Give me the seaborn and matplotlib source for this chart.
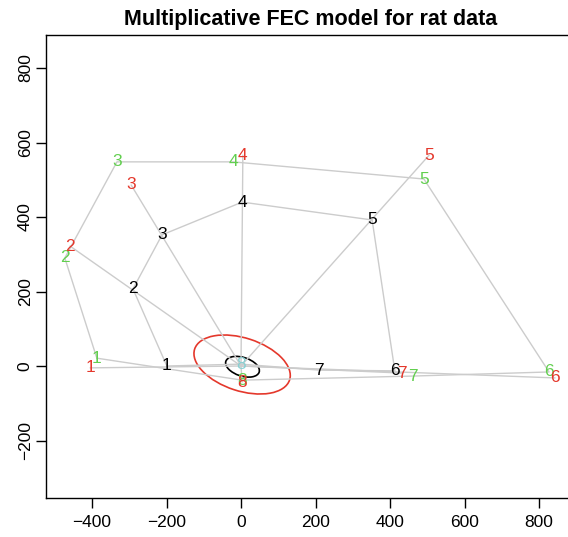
import numpy as np
import pandas as pd
import seaborn as sns
import matplotlib
matplotlib.use("Agg")
import matplotlib.pyplot as plt
from matplotlib.patches import Ellipse

# point labels shared by all series
labels = ["1", "2", "3", "4", "5", "6", "7", "8"]

# fitted (multiplicative) positions
fit_x = [-199, -290, -212, 3, 352, 413, 209, 0]
fit_y = [0, 207, 352, 440, 392, -13, -11, 5]
fit_colors = ["black"] * 7 + ["#8ad0d2"]

# red group
red_x = [-405, -459, -295, 5, 505, 843, 432, 3]
red_y = [-5, 322, 486, 566, 566, -32, -19, -43]

# green group
green_x = [-387, -473, -333, -21, 491, 827, 462, 3]
green_y = [21, 290, 548, 548, 502, -16, -27, -38]

# confidence ellipses: centre x, centre y, semi-axes, angle (deg)
ell_red = dict(cx=3, cy=4, a=134, b=71, angle=-18)
ell_black = dict(cx=4, cy=-2, a=47, b=25, angle=-18)

x_ticks = [-400, -200, 0, 200, 400, 600, 800]
y_ticks = [-200, 0, 200, 400, 600, 800]

RED = "#e4382c"
GREEN = "#62cf4f"
GREY = "#cccccc"

sns.set_theme(style="ticks")
plt.rcParams["font.family"] = ["Liberation Sans", "DejaVu Sans"]
plt.rcParams["axes.unicode_minus"] = True
plt.rcParams["text.color"] = "black"
plt.rcParams["axes.titlecolor"] = "black"

W, H = 568, 537
fig = plt.figure(figsize=(W / 100, H / 100), dpi=100)
left, right, top, bottom = 46, 576, 35, 498
ax = fig.add_axes([left / W, 1 - bottom / H, (right - left) / W, (bottom - top) / H])

# closed polygons through the fitted and green points
def closed(xs, ys):
    return pd.DataFrame({"x": list(xs) + [xs[0]], "y": list(ys) + [ys[0]]})

poly_fit = closed(fit_x, fit_y)
poly_green = closed(green_x, green_y)

# rays from the origin to each red point
rays = pd.DataFrame({
    "x": sum([[0, rx] for rx in red_x], []),
    "y": sum([[0, ry] for ry in red_y], []),
    "seg": sum([[i, i] for i in range(len(red_x))], []),
})

line_kw = dict(color=GREY, lw=1.0, sort=False, estimator=None, legend=False, ax=ax)
sns.lineplot(data=rays, x="x", y="y", units="seg", **line_kw)
sns.lineplot(data=poly_fit, x="x", y="y", **line_kw)
sns.lineplot(data=poly_green, x="x", y="y", **line_kw)

for e, col in ((ell_red, RED), (ell_black, "black")):
    ax.add_patch(Ellipse((e["cx"], e["cy"]), 2 * e["a"], 2 * e["b"], angle=e["angle"],
                         fill=False, edgecolor=col, lw=1.2))

txt_kw = dict(ha="center", va="center", fontsize=12.5)
for x, y, s, c in zip(fit_x, fit_y, labels, fit_colors):
    ax.text(x, y, s, color=c, **txt_kw)
for x, y, s in zip(green_x, green_y, labels):
    ax.text(x, y, s, color=GREEN, **txt_kw)
for x, y, s in zip(red_x, red_y, labels):
    ax.text(x, y, s, color=RED, **txt_kw)

scale = 0.3725  # pixels per data unit on both axes
x0, y0 = 241, 366
ax.set_xlim((left - x0) / scale, (right - x0) / scale)
ax.set_ylim((y0 - bottom) / scale, (y0 - top) / scale)
ax.set_xticks(x_ticks)
ax.set_yticks(y_ticks)
ax.set_xlabel("")
ax.set_ylabel("")

for sp in ax.spines.values():
    sp.set_visible(True)
    sp.set_color("black")
    sp.set_linewidth(1.0)

ax.tick_params(axis="both", direction="out", length=7.5, width=1.0, color="black",
               labelsize=12.5, labelcolor="black")
ax.tick_params(axis="x", pad=5)
ax.tick_params(axis="y", pad=2, labelrotation=90)
for lab in ax.get_yticklabels():
    lab.set_va("center")

ax.set_title("Multiplicative FEC model for rat data", fontsize=15.5,
             fontweight="bold", color="black", pad=7)

fig.savefig("out.png", dpi=100)
